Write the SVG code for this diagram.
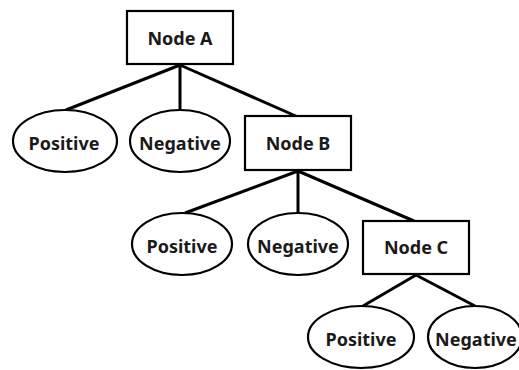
<svg xmlns="http://www.w3.org/2000/svg" width="519" height="370" viewBox="0 0 519 370">
<style>
.box{fill:#fff;stroke:#000;stroke-width:2.2}
.leaf{fill:#fff;stroke:#000;stroke-width:2.2}
.edge{stroke:#000;stroke-width:3;fill:none}
text{font-family:"Noto Sans","Liberation Sans",Arial,sans-serif;font-size:18px;font-weight:bold;fill:#1a1a1a;text-anchor:middle;dominant-baseline:central}
</style>
<rect width="519" height="370" fill="#fff"/>
<g id="connectors">
<line class="edge" x1="180" y1="65" x2="66" y2="110"/>
<line class="edge" x1="180" y1="65" x2="180" y2="110"/>
<line class="edge" x1="180" y1="65" x2="298" y2="117"/>
<line class="edge" x1="298" y1="171" x2="185" y2="213"/>
<line class="edge" x1="298" y1="171" x2="298" y2="214"/>
<line class="edge" x1="298" y1="171" x2="414" y2="221"/>
<line class="edge" x1="416" y1="275" x2="363" y2="306"/>
<line class="edge" x1="416" y1="275" x2="475" y2="306"/>
</g>
<g id="nodeA"><rect class="box" x="127" y="11" width="106" height="53"/><text x="180" y="38">Node A</text></g>
<g id="pos1"><ellipse class="leaf" cx="65" cy="141" rx="52" ry="31"/><text x="64" y="143">Positive</text></g>
<g id="neg1"><ellipse class="leaf" cx="180" cy="141" rx="50" ry="31"/><text x="180" y="143">Negative</text></g>
<g id="nodeB"><rect class="box" x="245" y="116" width="106" height="54"/><text x="298" y="143">Node B</text></g>
<g id="pos2"><ellipse class="leaf" cx="182" cy="244" rx="50" ry="31"/><text x="182" y="246">Positive</text></g>
<g id="neg2"><ellipse class="leaf" cx="298" cy="244" rx="50" ry="31"/><text x="298" y="246">Negative</text></g>
<g id="nodeC"><rect class="box" x="363" y="221" width="106" height="53"/><text x="416" y="247">Node C</text></g>
<g id="pos3"><ellipse class="leaf" cx="361" cy="337" rx="53" ry="31"/><text x="361" y="339">Positive</text></g>
<g id="neg3"><ellipse class="leaf" cx="475" cy="337" rx="47" ry="31"/><text x="476" y="339">Negative</text></g>
</svg>
